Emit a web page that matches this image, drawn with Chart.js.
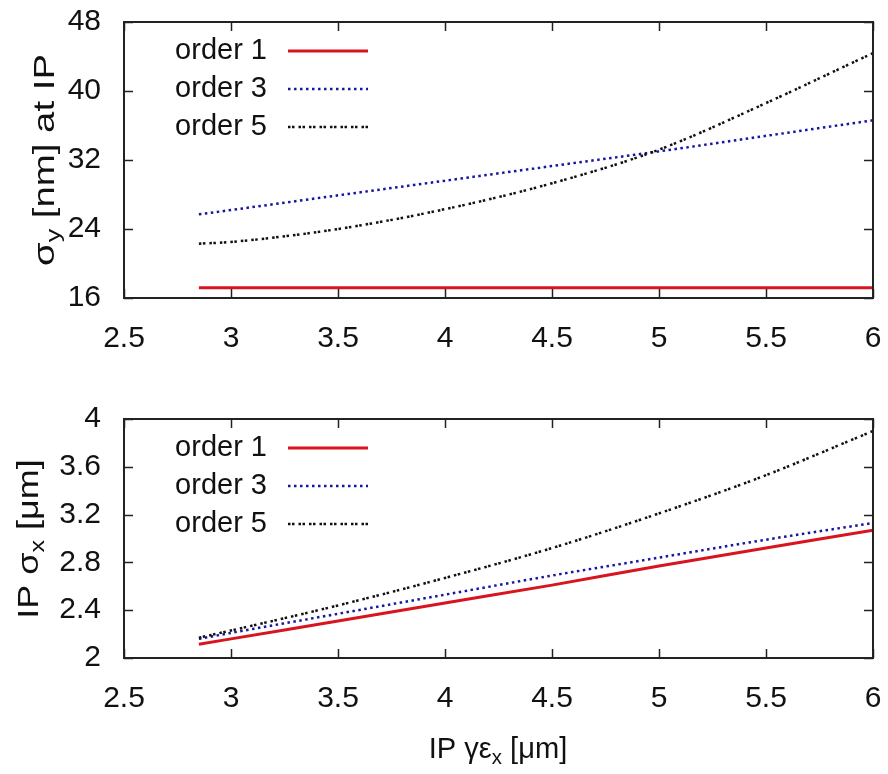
<!DOCTYPE html>
<html>
<head>
<meta charset="utf-8">
<script src="https://cdn.jsdelivr.net/npm/chart.js@4.4.1/dist/chart.umd.min.js"></script>
<style>
  html, body { margin: 0; padding: 0; background: #fff; }
  #wrap { position: relative; width: 888px; height: 774px; }
  #topChart { position: absolute; left: 0; top: 0; }
  #botChart { position: absolute; left: 0; top: 370px; }
</style>
</head>
<body>
<div id="wrap">
  <canvas id="topChart" width="888" height="370"></canvas>
  <canvas id="botChart" width="888" height="404"></canvas>
</div>
<script>
// IP gamma*emittance x [um]
const emitX = [2.85, 3, 3.5, 4, 4.5, 5, 5.5, 6];

// sigma_y [nm] at IP
const sigY1 = [17.2, 17.2, 17.2, 17.2, 17.2, 17.2, 17.2, 17.2];
const sigY3 = [25.7, 26.2, 27.9, 29.6, 31.3, 33.0, 34.8, 36.6];
const sigY5 = [22.3, 22.5, 24.0, 26.3, 29.3, 33.2, 38.6, 44.4];

// IP sigma_x [um]
const sigX1 = [2.115, 2.16, 2.31, 2.46, 2.61, 2.77, 2.92, 3.07];
const sigX3 = [2.16, 2.21, 2.37, 2.53, 2.69, 2.84, 2.99, 3.13];
const sigX5 = [2.17, 2.23, 2.44, 2.67, 2.92, 3.21, 3.53, 3.90];

const seriesLabels = ['order 1', 'order 3', 'order 5'];
const xTicksMin = 2.5, xTicksMax = 6, xStep = 0.5;
const yTopMin = 16, yTopMax = 48, yTopStep = 8;
const yBotMin = 2, yBotMax = 4, yBotStep = 0.4;

const styles = [
  { borderColor: '#d8141e', borderWidth: 3, borderDash: [], order: 2 },
  { borderColor: '#1616a0', borderWidth: 2.5, borderDash: [2.5, 3.5], order: 1 },
  { borderColor: '#111111', borderWidth: 2.5, borderDash: [2.5, 1.5, 2.5, 4], order: 0 }
];

function makeSets(arrs) {
  return arrs.map((arr, i) => ({
    label: seriesLabels[i],
    data: emitX.map((x, j) => ({ x: x, y: arr[j] })),
    borderColor: styles[i].borderColor,
    borderWidth: styles[i].borderWidth,
    borderDash: styles[i].borderDash,
    order: styles[i].order,
    pointRadius: 0,
    fill: false,
    cubicInterpolationMode: 'monotone'
  }));
}

// box around plot + inward ticks on all four sides
const framePlugin = {
  id: 'frame',
  afterDraw(chart) {
    const { ctx, chartArea: a, scales } = chart;
    const x = scales.x, y = scales.y;
    ctx.save();
    ctx.strokeStyle = '#222';
    ctx.lineWidth = 1.5;
    ctx.setLineDash([]);
    ctx.beginPath();
    x.ticks.forEach(t => {
      const px = Math.round(x.getPixelForValue(t.value)) + 0.5;
      ctx.moveTo(px, a.bottom); ctx.lineTo(px, a.bottom - 9);
      ctx.moveTo(px, a.top); ctx.lineTo(px, a.top + 9);
    });
    y.ticks.forEach(t => {
      const py = Math.round(y.getPixelForValue(t.value)) + 0.5;
      ctx.moveTo(a.left, py); ctx.lineTo(a.left + 9, py);
      ctx.moveTo(a.right, py); ctx.lineTo(a.right - 9, py);
    });
    ctx.stroke();
    ctx.lineWidth = 2;
    ctx.strokeRect(a.left, a.top, a.right - a.left, a.bottom - a.top);
    ctx.restore();
  }
};

// gnuplot-style key: text then line sample
const keyPlugin = {
  id: 'key',
  afterDraw(chart) {
    const { ctx, chartArea: a } = chart;
    ctx.save();
    chart.data.datasets.forEach((ds, i) => {
      const yy = a.top + 29 + i * 38;
      ctx.font = '29px "Liberation Sans", Arial, sans-serif';
      ctx.fillStyle = '#111';
      ctx.textAlign = 'right';
      ctx.textBaseline = 'middle';
      ctx.fillText(ds.label, 267, yy);
      ctx.strokeStyle = ds.borderColor;
      ctx.lineWidth = ds.borderWidth;
      ctx.setLineDash(ds.borderDash || []);
      ctx.beginPath();
      ctx.moveTo(288, yy);
      ctx.lineTo(368, yy);
      ctx.stroke();
    });
    ctx.restore();
  }
};

// axis titles with subscripts
function drawRich(ctx, parts, cx, cy, rot, stretch) {
  const main = '30px "Liberation Sans", Arial, sans-serif';
  const sub = '21px "Liberation Sans", Arial, sans-serif';
  ctx.save();
  let total = 0;
  parts.forEach(p => { ctx.font = p.sub ? sub : main; p.w = ctx.measureText(p.t).width; total += p.w; });
  ctx.translate(cx, cy);
  ctx.rotate(rot);
  ctx.scale(stretch, 1);
  ctx.fillStyle = '#111';
  ctx.textAlign = 'left';
  ctx.textBaseline = 'middle';
  let pos = -total / 2;
  parts.forEach(p => {
    ctx.font = p.sub ? sub : main;
    ctx.fillText(p.t, pos, p.sub ? 8 : 0);
    pos += p.w;
  });
  ctx.restore();
}

const titlePlugin = {
  id: 'axisTitles',
  afterDraw(chart, args, opts) {
    const ctx = chart.ctx;
    if (opts.y) drawRich(ctx, opts.y.parts, opts.y.cx, opts.y.cy, -Math.PI / 2, opts.y.stretch || 1);
    if (opts.x) drawRich(ctx, opts.x.parts, opts.x.cx, opts.x.cy, 0, opts.x.stretch || 1);
  }
};

function fmt(v) { return String(Number(v.toFixed(2))); }

function makeOptions(yMin, yMax, yStep, padTop, xHeight, titles) {
  return {
    responsive: false,
    animation: false,
    layout: { padding: { top: padTop, right: 15, left: 0, bottom: 0 } },
    plugins: { legend: { display: false }, tooltip: { enabled: false }, axisTitles: titles },
    scales: {
      x: {
        type: 'linear', min: xTicksMin, max: xTicksMax,
        grid: { display: false, drawTicks: false },
        border: { display: false },
        ticks: { stepSize: xStep, padding: 23, color: '#111', maxRotation: 0, callback: fmt,
                 font: { family: '"Liberation Sans", Arial, sans-serif', size: 30 } },
        afterFit(s) { s.height = xHeight; s.paddingLeft = 0; s.paddingRight = 0; }
      },
      y: {
        min: yMin, max: yMax,
        grid: { display: false, drawTicks: false },
        border: { display: false },
        ticks: { stepSize: yStep, padding: 23, color: '#111', callback: fmt,
                 font: { family: '"Liberation Sans", Arial, sans-serif', size: 30 } },
        afterFit(s) { s.width = 124; s.paddingTop = 0; s.paddingBottom = 0; }
      }
    }
  };
}

document.addEventListener('DOMContentLoaded', () => {
  new Chart(document.getElementById('topChart'), {
    type: 'line',
    data: { datasets: makeSets([sigY1, sigY3, sigY5]) },
    options: makeOptions(yTopMin, yTopMax, yTopStep, 22, 72, {
      y: { parts: [{ t: 'σ' }, { t: 'y', sub: true }, { t: ' [nm] at IP' }], cx: 46, cy: 160, stretch: 1.28 }
    }),
    plugins: [framePlugin, keyPlugin, titlePlugin]
  });

  new Chart(document.getElementById('botChart'), {
    type: 'line',
    data: { datasets: makeSets([sigX1, sigX3, sigX5]) },
    options: makeOptions(yBotMin, yBotMax, yBotStep, 49, 116, {
      y: { parts: [{ t: 'IP σ' }, { t: 'x', sub: true }, { t: ' [μm]' }], cx: 30, cy: 169, stretch: 1.2 },
      x: { parts: [{ t: 'IP γε' }, { t: 'x', sub: true }, { t: ' [μm]' }], cx: 498, cy: 380, stretch: 0.97 }
    }),
    plugins: [framePlugin, keyPlugin, titlePlugin]
  });
});
</script>
</body>
</html>
